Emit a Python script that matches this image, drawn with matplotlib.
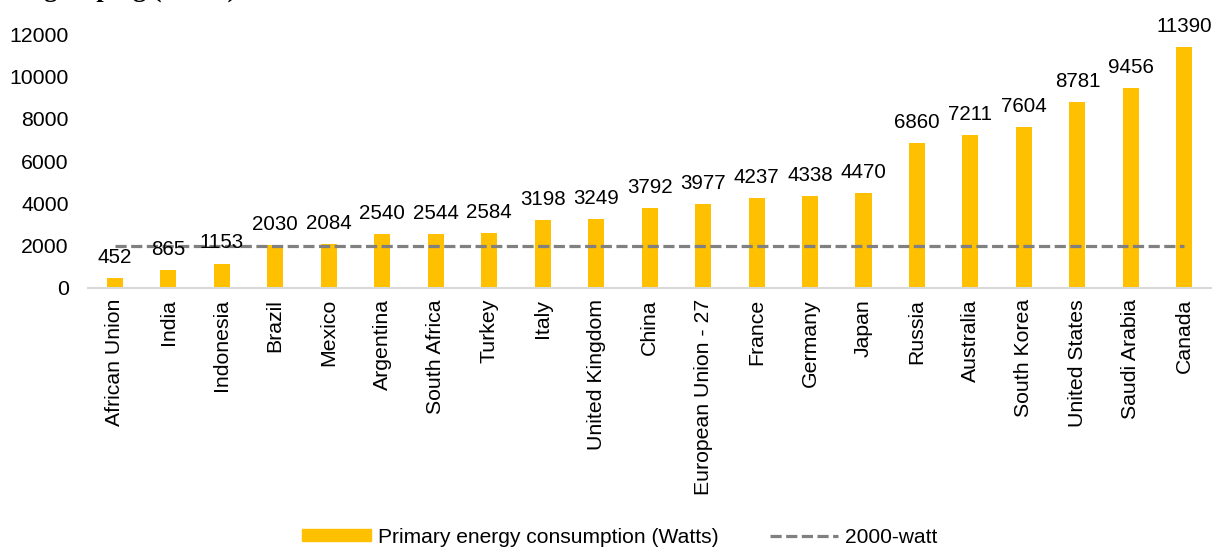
import numpy as np
import matplotlib.pyplot as plt
from matplotlib.patches import Patch
from matplotlib.lines import Line2D

countries = ["African Union", "India", "Indonesia", "Brazil", "Mexico", "Argentina",
             "South Africa", "Turkey", "Italy", "United Kingdom", "China",
             "European Union - 27", "France", "Germany", "Japan", "Russia",
             "Australia", "South Korea", "United States", "Saudi Arabia", "Canada"]
watts = [452, 865, 1153, 2030, 2084, 2540, 2544, 2584, 3198, 3249, 3792,
         3977, 4237, 4338, 4470, 6860, 7211, 7604, 8781, 9456, 11390]
target = [2000] * len(countries)

plt.rcParams['font.family'] = ['Liberation Sans', 'DejaVu Sans']

fig = plt.figure(figsize=(12.16, 5.47), dpi=100)
ax = fig.add_axes([0.0724, 0.4735, 0.9236, 0.4643])

x = np.arange(len(countries))
ax.bar(x, watts, width=0.3, color='#FFC000', zorder=2)
ax.plot(x, target, color='#808080', lw=2.3, dashes=(3.5, 1.4), zorder=3)

for xi, v in zip(x, watts):
    ax.annotate(str(v), (xi, v), xytext=(0, 8), textcoords='offset points',
                ha='center', va='bottom', fontsize=14.8, color='#000000',
                annotation_clip=False)

ax.set_xlim(-0.5, len(countries) - 0.5)
ax.set_ylim(0, 12000)
ax.set_yticks(range(0, 12001, 2000))
ax.set_xticks(x)
ax.set_xticklabels(countries, rotation=90, fontsize=15.3)
ax.tick_params(axis='y', labelsize=15.3, length=0, pad=14)
ax.tick_params(axis='x', length=0, pad=8)
for s in ['top', 'right', 'left']:
    ax.spines[s].set_visible(False)
ax.spines['bottom'].set_color('#D9D9D9')
ax.spines['bottom'].set_linewidth(1.5)

# title is cut off at the top of the image, only descenders show
fig.text(236 / 1216, 1 + 3.5 / 547, "Primary energy consumption per person by G20 grouping (Watts)",
         ha='right', va='baseline', fontsize=19, fontweight='bold',
         family=['Liberation Serif', 'DejaVu Serif'])

handles = [Patch(color='#FFC000', label='Primary energy consumption (Watts)'),
           Line2D([], [], color='#808080', lw=2.3, dashes=(3.5, 1.4), label='2000-watt')]
fig.legend(handles=handles, loc='center', bbox_to_anchor=(0.510, 0.018), ncol=2,
           frameon=False, fontsize=15.1, handlelength=3.25, handleheight=0.53,
           handletextpad=0.35, columnspacing=2.45)

fig.savefig('out.png', dpi=100)
